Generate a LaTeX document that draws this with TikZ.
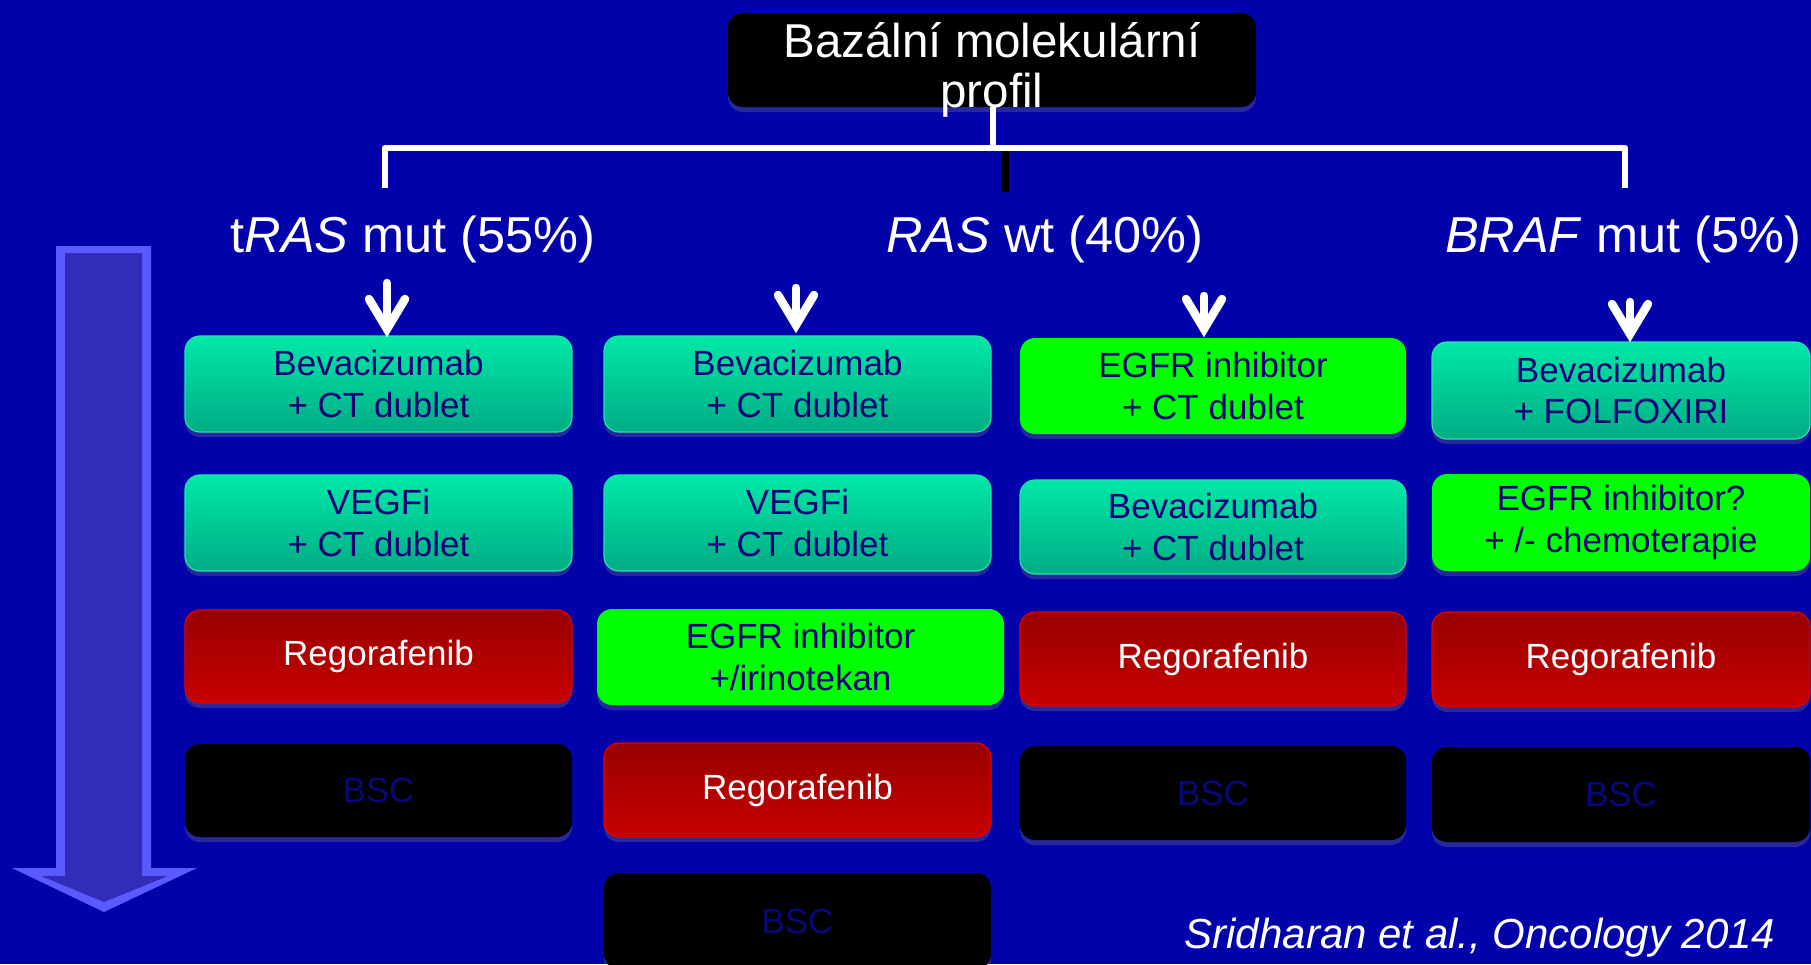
\documentclass[tikz,border=0pt]{standalone}
\usepackage{fontspec}
\setmainfont{Liberation Sans}
\usetikzlibrary{shadows}

\definecolor{bg}{RGB}{2,2,170}
\definecolor{tealtop}{RGB}{0,232,168}
\definecolor{tealbot}{RGB}{0,172,132}
\definecolor{tealedge}{RGB}{40,225,175}
\definecolor{redtop}{RGB}{152,0,0}
\definecolor{redbot}{RGB}{200,0,0}
\definecolor{rededge}{RGB}{228,0,0}
\definecolor{egfr}{RGB}{0,255,0}
\definecolor{navy}{RGB}{20,0,120}
\definecolor{bscblue}{RGB}{8,8,125}
\definecolor{arrowedge}{RGB}{90,90,255}
\definecolor{arrowfill}{RGB}{50,45,185}

\begin{document}
\begin{tikzpicture}[x=1pt,y=-1pt,
  anybox/.style={rounded corners=15pt, inner sep=0pt, align=center,
    font=\fontsize{35}{41.5}\selectfont,
    drop shadow={shadow xshift=0pt,shadow yshift=-5pt,opacity=0.3}},
  tealbox/.style={anybox, top color=tealtop, bottom color=tealbot,
    draw=tealedge, line width=1.2pt, text=navy},
  egfrbox/.style={anybox, fill=egfr, text=navy},
  regbox/.style={anybox, top color=redtop, bottom color=redbot,
    draw=rededge, line width=1.2pt, text=white},
  bscbox/.style={anybox, fill=black, text=bscblue},
  colA/.style={minimum width=387pt},
  colB/.style={minimum width=387pt},
  colC/.style={minimum width=386pt},
  colD/.style={minimum width=378pt},
  branch/.style={draw=white, line width=6.5pt, line join=round},
  downarrow/.style={draw=white, line width=8.5pt, line cap=round, line join=miter},
  label/.style={text=white, inner sep=0pt, anchor=base, font=\fontsize{50.5}{60}\selectfont},
  titletext/.style={text=white, inner sep=0pt, anchor=base, font=\fontsize{47.5}{52}\selectfont}
]
% background
\fill[bg] (0,0) rectangle (1811,964);
\useasboundingbox (0,0) rectangle (1811,964);

% progression arrow on the left
\fill[arrowedge] (56,246) -- (151,246) -- (151,868) -- (197,868) -- (104,912)
  -- (12,868) -- (56,868) -- cycle;
\fill[arrowfill] (65,253) -- (142,253) -- (142,876) -- (168,876) -- (104,902)
  -- (41,876) -- (65,876) -- cycle;

% header box
\node[anybox, fill=black, minimum width=528pt, minimum height=94pt] (head) at (992,60) {};
\node[titletext] (headA) at (992,57) {Bazální molekulární};
\node[titletext] (headB) at (992,107) {profil};

% branching bracket
\coordinate (hub) at (993,148);
\coordinate (brL) at (385,148);
\coordinate (brR) at (1625,148);
\coordinate (brLend) at (385,188);
\coordinate (brRend) at (1625,188);
\draw[branch] (head.south -| hub) -- (hub);
\draw[branch] (brLend) -- (brL) -- (brR) -- (brRend);
\coordinate (stubA) at (1005,151);
\coordinate (stubB) at (1005,192);
\draw[black, line width=7pt] (stubA) -- (stubB);

% group labels
\node[label] (labA) at (413,252) {t\textit{RAS} mut (55\%)};
\node[label] (labB) at (1045,252) {\textit{RAS} wt (40\%)};
\node[label] (labC) at (1623,252) {\textit{BRAF} mut (5\%)};

% column 1
\node[tealbox, colA, minimum height=96pt] (a1) at (378.5,384) {Bevacizumab\\+ CT dublet};
\node[tealbox, colA, minimum height=96pt] (a2) at (378.5,523) {VEGFi\\+ CT dublet};
\node[regbox,  colA, minimum height=93pt] (a3) at (378.5,656.5) {Regorafenib};
\node[bscbox,  colA, minimum height=93pt] (a4) at (378.5,790.5) {BSC};

% column 2
\node[tealbox, colB, minimum height=96pt] (b1) at (797.5,384) {Bevacizumab\\+ CT dublet};
\node[tealbox, colB, minimum height=96pt] (b2) at (797.5,523) {VEGFi\\+ CT dublet};
\node[egfrbox, minimum width=407pt, minimum height=96pt] (b3) at (800.5,657) {EGFR inhibitor\\+/irinotekan};
\node[regbox,  colB, minimum height=94pt] (b4) at (797.5,790) {Regorafenib};
\node[bscbox,  colB, minimum height=96pt] (b5) at (797.5,921) {BSC};

% column 3
\node[egfrbox, colC, minimum height=96pt] (c1) at (1213,386) {EGFR inhibitor\\+ CT dublet};
\node[tealbox, colC, minimum height=94pt] (c2) at (1213,527) {Bevacizumab\\+ CT dublet};
\node[regbox,  colC, minimum height=94pt] (c3) at (1213,659) {Regorafenib};
\node[bscbox,  colC, minimum height=94pt] (c4) at (1213,793) {BSC};

% column 4
\node[tealbox, colD, minimum height=97pt] (d1) at (1621,390.5) {Bevacizumab\\+ FOLFOXIRI};
\node[egfrbox, colD, minimum height=97pt] (d2) at (1621,522.5) {EGFR inhibitor?\\+ /- chemoterapie};
\node[regbox,  colD, minimum height=95pt] (d3) at (1621,659.5) {Regorafenib};
\node[bscbox,  colD, minimum height=95pt] (d4) at (1621,794.5) {BSC};

% arrows from the groups to the first-line boxes
\foreach \nm/\x/\top/\tip in {a/387/283/329, b/796/288/325, c/1204/296/329, d/1630/302/334}{
  \coordinate (\nm top) at (\x,\top);
  \coordinate (\nm tip) at (\x,\tip);
  \coordinate (\nm wl) at (\x-18,\tip-30);
  \coordinate (\nm wr) at (\x+18,\tip-30);
  \draw[downarrow] (\nm top) -- (\nm tip);
  \draw[downarrow] (\nm wl) -- (\nm tip) -- (\nm wr);
}

% reference
\node[text=white, inner sep=0pt, anchor=base, font=\fontsize{42}{50}\selectfont\itshape]
  (cite) at (1480,948) {Sridharan et al., Oncology 2014};
\end{tikzpicture}
\end{document}
